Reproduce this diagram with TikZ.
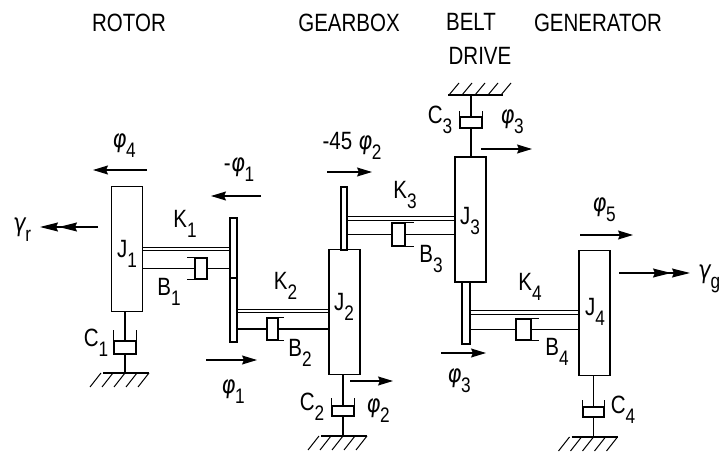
\documentclass[tikz,border=0pt]{standalone}
\usepackage{fontspec}
\usepackage{xcolor}
\usepackage{tikz}
\usetikzlibrary{arrows.meta, calc}
\setmainfont[FakeStretch=0.82]{Liberation Sans}
\newfontfamily\phifont[FakeStretch=0.85,FakeSlant=0.12]{DejaVu Sans}
\newcommand{\subs}[1]{\raisebox{-10pt}{\fontsize{21}{21}\selectfont #1}}
\newcommand{\fii}{{\phifont φ}}
\newcommand{\gam}{{\phifont γ}}

\begin{document}
\begin{tikzpicture}[
  x=1pt, y=-1pt,
  line width=1.4pt,
  inertia/.style={rectangle, draw, minimum width=#1, minimum height=125pt, inner sep=0pt},
  inertia/.default=31pt,
  plate/.style={rectangle, draw, inner sep=0pt},
  pot/.style={rectangle, draw, inner sep=0pt},
  spring/.style={double, double distance=2.6pt, line width=1.1pt},
  motion/.style={-{Stealth[length=15pt, width=9pt, inset=2pt]}, line width=1.2pt},
  loadarrow/.style={-{Stealth[length=18pt, width=9pt, inset=2pt, sep=1pt]Stealth[length=18pt, width=9pt, inset=2pt, sep=1pt]}, line width=1.2pt},
  txt/.style={font=\fontsize{25}{27}\selectfont, inner sep=0pt, align=center},
]
  \useasboundingbox (0,0) rectangle (723,454);

  % inertias and plates
  \node[inertia] (J1) at (127,249) {};
  \node[inertia] (J2) at (344.5,312) {};
  \node[inertia] (J3) at (470.5,219.5) {};
  \node[inertia] (J4) at (594.5,313) {};
  \node[plate, minimum width=7pt, minimum height=60pt] (pa) at (233.5,248) {};
  \node[plate, minimum width=7pt, minimum height=64pt] (pb) at (233.5,310) {};
  \node[plate, minimum width=6pt, minimum height=63pt] (pc) at (344,218.5) {};
  \node[plate, minimum width=8pt, minimum height=62pt] (pd) at (466,313) {};

  % springs
  \draw[spring] (J1.east |- 0,249) -- (pa.west |- 0,249);
  \draw[spring] (pb.east |- 0,311) -- (J2.west |- 0,311);
  \draw[spring] (pc.east |- 0,218.5) -- (J3.west |- 0,218.5);
  \draw[spring] (pd.east |- 0,312.5) -- (J4.west |- 0,312.5);

  % shaft dampers
  \node[pot, minimum width=12pt, minimum height=21pt] (b1) at (201,268.5) {};
  \node[pot, minimum width=11pt, minimum height=22pt] (b2) at (272.5,329) {};
  \node[pot, minimum width=13pt, minimum height=23pt] (b3) at (398.5,234.5) {};
  \node[pot, minimum width=15pt, minimum height=21pt] (b4) at (523.5,329.5) {};
  \draw (J1.east |- b1) -- (b1.west) (b1.east) -- (pa.west |- b1);
  \draw (pb.east |- b2) -- (b2.west) (b2.east) -- (J2.west |- b2);
  \draw (pc.east |- b3) -- (b3.west) (b3.east) -- (J3.west |- b3);
  \draw (pd.east |- b4) -- (b4.west) (b4.east) -- (J4.west |- b4);
  \draw (b1.north west) -- ++(-7,0) (b1.south west) -- ++(-7,0);
  \draw (b2.north east) -- ++(5,0) (b2.south east) -- ++(5,0);
  \draw (b3.north east) -- ++(8,0) (b3.south east) -- ++(8,0);
  \draw (b4.north east) -- ++(7,0) (b4.south east) -- ++(7,0);

  % ground dampers
  \node[pot, minimum width=22pt, minimum height=13pt] (c1) at (125,347.5) {};
  \node[pot, minimum width=22pt, minimum height=10pt] (c2) at (343,411) {};
  \node[pot, minimum width=22pt, minimum height=11pt] (c3) at (471,122.5) {};
  \node[pot, minimum width=21pt, minimum height=10pt] (c4) at (593.5,412) {};
  \coordinate (g1) at (125,373);
  \coordinate (g2) at (343,436);
  \coordinate (g3) at (471,95);
  \coordinate (g4) at (593.5,437);
  \draw (c1.north |- J1.south) -- (c1.north) (c1.south) -- (g1);
  \draw (c2.north |- J2.south) -- (c2.north) (c2.south) -- (g2);
  \draw (c3.south |- J3.north) -- (c3.south) (c3.north) -- (g3);
  \draw (c4.north |- J4.south) -- (c4.north) (c4.south) -- (g4);
  \foreach \c/\d in {c1/10, c2/7, c4/6} {
    \draw (\c.north west) -- ++(0,-\d) (\c.north east) -- ++(0,-\d);
  }
  \draw (c3.north west) -- ++(0,-5) (c3.north east) -- ++(0,-5);

  % ground hatching
  \foreach \g in {g1, g2, g4} {
    \draw ($(\g)+(-22,0)$) -- ($(\g)+(24,0)$);
    \foreach \dx in {-10,2,14,26,38} {
      \draw[line width=1pt] ($(\g)+(\dx-14,0)$) -- ++(-11,14);
    }
  }
  \draw ($(g3)+(-23,0)$) -- ($(g3)+(32,0)$);
  \foreach \dx in {-22,-9,4,17,30} {
    \draw[line width=1pt] ($(g3)+(\dx,0)$) -- ++(10,-12);
  }

  % motion arrows
  \foreach \nm/\xa/\xb/\yy in {ma/147/93/170, mb/261/211/196, mc/206/257/360, md/327/372/172,
      me/481/532/149, mf/350/393/381, mg/580/633/235, mh/441/486/353} {
    \coordinate (\nm s) at (\xa,\yy);
    \coordinate (\nm e) at (\xb,\yy);
    \draw[motion] (\nm s) -- (\nm e);
  }
  \coordinate (lrs) at (98,227);
  \coordinate (lre) at (39,227);
  \coordinate (lgs) at (619,273);
  \coordinate (lge) at (691,273);
  \draw[loadarrow] (lrs) -- (lre);
  \draw[loadarrow] (lgs) -- (lge);

  % titles
  \node[txt] (trotor) at (129,23) {ROTOR};
  \node[txt] (tgear) at (349,23) {GEARBOX};
  \node[txt] (tbelt) at (471,22) {BELT};
  \node[txt] (tdrive) at (480,56) {DRIVE};
  \node[txt] (tgen) at (598,23) {GENERATOR};

  % labels
  \node[txt] (lj1) at (127,254) {J\subs{1}};
  \node[txt] (lj2) at (344,307) {J\subs{2}};
  \node[txt] (lj3) at (470,221) {J\subs{3}};
  \node[txt] (lj4) at (595,312) {J\subs{4}};
  \node[txt] (lk1) at (185,224) {K\subs{1}};
  \node[txt] (lk2) at (285.5,285.5) {K\subs{2}};
  \node[txt] (lk3) at (405,195) {K\subs{3}};
  \node[txt] (lk4) at (530,287) {K\subs{4}};
  \node[txt] (lb1) at (169,292) {B\subs{1}};
  \node[txt] (lb2) at (300,353) {B\subs{2}};
  \node[txt] (lb3) at (431,259) {B\subs{3}};
  \node[txt] (lb4) at (557,352) {B\subs{4}};
  \node[txt] (lc1) at (96,343) {C\subs{1}};
  \node[txt] (lc2) at (312,407) {C\subs{2}};
  \node[txt] (lc3) at (440,120) {C\subs{3}};
  \node[txt] (lc4) at (623,410) {C\subs{4}};
  \node[txt] (lf4) at (124,146) {\fii\subs{4}};
  \node[txt] (lf1a) at (239,170) {-\fii\subs{1}};
  \node[txt] (lf1b) at (233,392) {\fii\subs{1}};
  \node[txt] (lf2a) at (352,146) {-45 \fii\subs{2}};
  \node[txt] (lf2b) at (378,411) {\fii\subs{2}};
  \node[txt] (lf3a) at (512,122) {\fii\subs{3}};
  \node[txt] (lf3b) at (459,381) {\fii\subs{3}};
  \node[txt] (lf5) at (604,210) {\fii\subs{5}};
  \node[txt] (lgr) at (22,230) {\gam\subs{r}};
  \node[txt] (lgg) at (709,279) {\gam\subs{g}};
\end{tikzpicture}
\end{document}
